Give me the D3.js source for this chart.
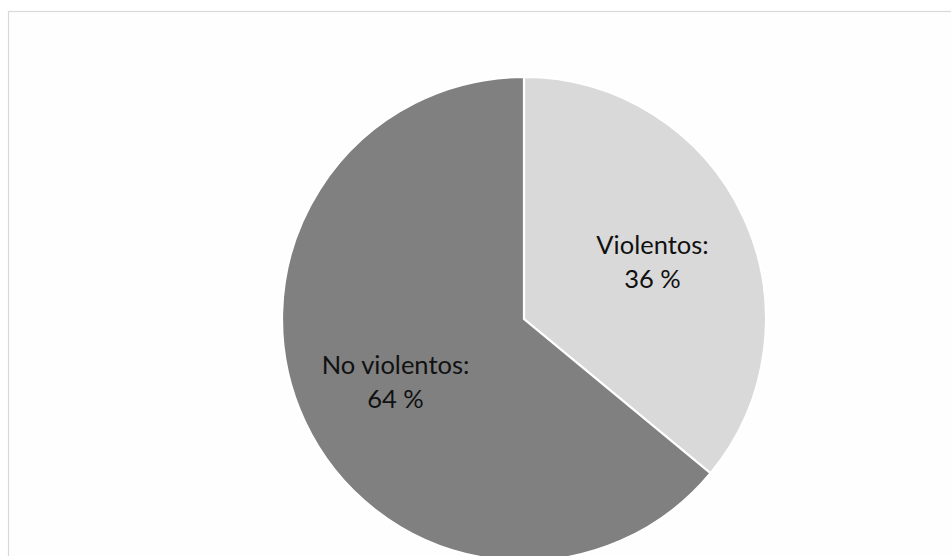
<!DOCTYPE html>
<html>
<head>
<meta charset="utf-8">
<script src="https://cdn.jsdelivr.net/npm/d3@7"></script>
<style>
html,body{margin:0;padding:0;background:#fff;overflow:hidden;}
</style>
</head>
<body>
<svg id="chart" width="951" height="556"></svg>
<script>
const categories = ["Violentos", "No violentos"];
const values = [36, 64];
const labelLines = [["Violentos:", "36 %"], ["No violentos:", "64 %"]];
const colors = ["#d9d9d9", "#808080"];

const svg = d3.select("#chart");
// chart frame
svg.append("rect")
  .attr("x", 8.5).attr("y", 11.5)
  .attr("width", 960).attr("height", 560)
  .attr("fill", "#fefefe")
  .attr("stroke", "#d9d9d9").attr("stroke-width", 1.2);

const cx = 524, cy = 319, R = 242;
const g = svg.append("g").attr("transform", `translate(${cx},${cy})`);

const pie = d3.pie().sort(null).value(d => d);
const arcs = pie(values);
const arc = d3.arc().innerRadius(0).outerRadius(R);
const labelArc = d3.arc().innerRadius(142).outerRadius(142);

g.selectAll("path.slice")
  .data(arcs)
  .enter().append("path")
  .attr("class", "slice")
  .attr("d", arc)
  .attr("fill", (d, i) => colors[i])
  .attr("stroke", "#ffffff")
  .attr("stroke-width", 2.2)
  .attr("stroke-linejoin", "miter");

const labels = g.selectAll("text.lbl")
  .data(arcs)
  .enter().append("text")
  .attr("class", "lbl")
  .attr("text-anchor", "middle")
  .attr("font-family", "Lato, 'Open Sans', sans-serif")
  .attr("font-size", 25.5)
  .attr("fill", "#111")
  .attr("transform", d => {
    const c = labelArc.centroid(d);
    return `translate(${c[0]},${c[1]})`;
  });

labels.each(function(d, i) {
  const t = d3.select(this);
  labelLines[i].forEach((line, j) => {
    t.append("tspan").attr("x", 0).attr("y", j === 0 ? -5 : 29).text(line);
  });
});
</script>
</body>
</html>
